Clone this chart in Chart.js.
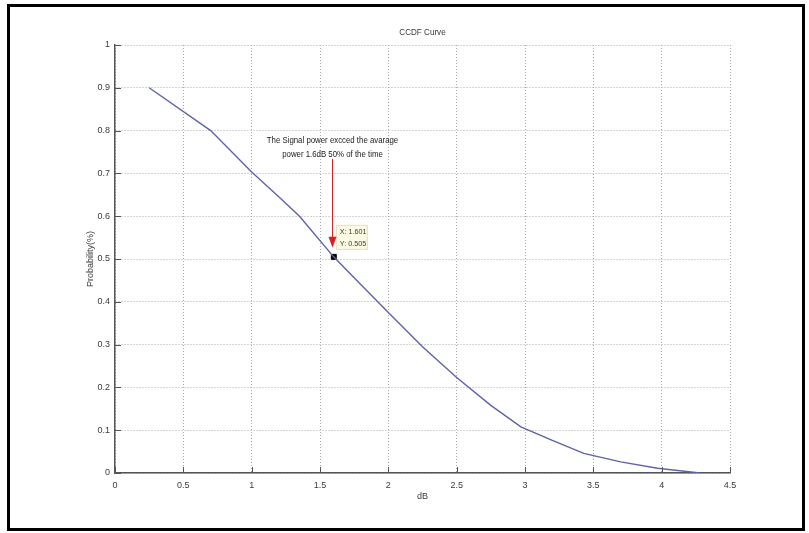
<!DOCTYPE html>
<html>
<head>
<meta charset="utf-8">
<title>CCDF Curve</title>
<script src="https://cdn.jsdelivr.net/npm/chart.js@4.4.1/dist/chart.umd.min.js"></script>
<style>
    html, body { margin: 0; padding: 0; background: #fff; }
    #wrap { position: relative; width: 809px; height: 533px; }
    #frame {
        position: absolute; left: 7px; top: 4px; width: 792px; height: 521px;
        border: 3px solid #000; pointer-events: none;
    }
    canvas { position: absolute; left: 0; top: 0; filter: blur(0.3px); }
</style>
</head>
<body>
<div id="wrap">
    <canvas id="ccdfChart" width="809" height="533"></canvas>
    <div id="frame"></div>
</div>
<script>
// CCDF of signal power over average (dB)
const powerDb = [0.25, 0.70, 1.00, 1.20, 1.35, 1.60, 1.80, 2.00, 2.25, 2.50, 2.75, 2.97, 3.20, 3.43, 3.70, 3.97, 4.28];
const probability = [0.900, 0.800, 0.703, 0.645, 0.600, 0.505, 0.440, 0.375, 0.295, 0.223, 0.158, 0.108, 0.076, 0.046, 0.026, 0.011, 0.000];

// data cursor point
const cursorX = [1.601];
const cursorY = [0.505];

const xTicks = [0, 0.5, 1, 1.5, 2, 2.5, 3, 3.5, 4, 4.5];
const xTickLabels = ['0', '0.5', '1', '1.5', '2', '2.5', '3', '3.5', '4', '4.5'];
const yTicks = [0, 0.1, 0.2, 0.3, 0.4, 0.5, 0.6, 0.7, 0.8, 0.9, 1];
const yTickLabels = ['0', '0.1', '0.2', '0.3', '0.4', '0.5', '0.6', '0.7', '0.8', '0.9', '1'];

const chartTitle = 'CCDF Curve';
const noteLines = ['The Signal power excced the avarage', 'power 1.6dB 50% of the time'];

const FONT = "'Liberation Sans', Arial, sans-serif";
const TEXT = '#3a3a3a';

function fixedTicks(values) {
    return function(scale) {
        scale.ticks = values.map(v => ({ value: v }));
    };
}

// narrow text: squeeze horizontally around the anchor
function narrowText(ctx, text, x, y, squeeze) {
    ctx.save();
    ctx.translate(x, y);
    ctx.scale(squeeze, 1);
    ctx.fillText(text, 0, 0);
    ctx.restore();
}

// MATLAB style ticks pointing into the axes, title over the plot area, data tip and arrow note
const extrasPlugin = {
    id: 'extras',
    afterDatasetsDraw(chart) {
        const ctx = chart.ctx;
        const xs = chart.scales.x, ys = chart.scales.y;
        const area = chart.chartArea;

        ctx.save();
        ctx.strokeStyle = '#555';
        ctx.lineWidth = 1;
        xTicks.forEach(v => {
            const px = Math.round(xs.getPixelForValue(v)) + 0.5;
            ctx.beginPath();
            ctx.moveTo(px, area.bottom);
            ctx.lineTo(px, area.bottom - 6);
            ctx.stroke();
        });
        yTicks.forEach(v => {
            const py = Math.round(ys.getPixelForValue(v)) + 0.5;
            ctx.beginPath();
            ctx.moveTo(area.left, py);
            ctx.lineTo(area.left + 6, py);
            ctx.stroke();
        });

        // title centred on the axes
        ctx.fillStyle = TEXT;
        ctx.font = '9px ' + FONT;
        ctx.textAlign = 'center';
        ctx.textBaseline = 'middle';
        narrowText(ctx, chartTitle, (area.left + area.right) / 2, area.top - 12, 0.9);

        const mx = xs.getPixelForValue(cursorX[0]);
        const my = ys.getPixelForValue(cursorY[0]);

        // data tip box
        ctx.fillStyle = '#fbfbe4';
        ctx.strokeStyle = '#e0e0c8';
        ctx.fillRect(mx + 2, my - 32, 32, 25);
        ctx.strokeRect(mx + 2.5, my - 31.5, 31, 24);
        ctx.fillStyle = TEXT;
        ctx.font = '8px ' + FONT;
        ctx.textAlign = 'left';
        narrowText(ctx, 'X: ' + cursorX[0].toFixed(3), mx + 6, my - 25, 0.9);
        narrowText(ctx, 'Y: ' + cursorY[0].toFixed(3), mx + 6, my - 13, 0.9);

        // red arrow from the note down to the point
        const ax = Math.round(mx - 2) + 0.5;
        ctx.strokeStyle = '#d42424';
        ctx.fillStyle = '#d42424';
        ctx.beginPath();
        ctx.moveTo(ax, my - 98);
        ctx.lineTo(ax, my - 14);
        ctx.stroke();
        ctx.beginPath();
        ctx.moveTo(ax - 4, my - 20);
        ctx.lineTo(ax + 4, my - 20);
        ctx.lineTo(ax, my - 9);
        ctx.closePath();
        ctx.fill();

        // note text
        ctx.fillStyle = '#222';
        ctx.font = '9px ' + FONT;
        ctx.textAlign = 'center';
        narrowText(ctx, noteLines[0], ax, my - 116, 0.87);
        narrowText(ctx, noteLines[1], ax, my - 102, 0.87);
        ctx.restore();
    }
};

new Chart(document.getElementById('ccdfChart'), {
    type: 'scatter',
    data: {
        datasets: [{
            data: powerDb.map((x, i) => ({ x: x, y: probability[i] })),
            showLine: true,
            borderColor: '#5e62aa',
            borderWidth: 1.4,
            pointRadius: 0,
            tension: 0
        }, {
            data: cursorX.map((x, i) => ({ x: x, y: cursorY[i] })),
            showLine: false,
            pointStyle: 'rect',
            pointRadius: 3.5,
            backgroundColor: '#000',
            borderColor: '#000',
            borderWidth: 1
        }]
    },
    plugins: [extrasPlugin],
    options: {
        responsive: false,
        animation: false,
        layout: { padding: { top: 45, right: 79, bottom: 0, left: 0 } },
        plugins: {
            legend: { display: false },
            tooltip: { enabled: false },
            title: { display: false }
        },
        scales: {
            x: {
                type: 'linear',
                min: 0,
                max: 4.5,
                afterBuildTicks: fixedTicks(xTicks),
                afterFit(scale) { scale.height = 60; },
                grid: { color: '#a8a8a8', lineWidth: 1, drawTicks: false },
                border: { color: '#555', width: 1.5, dash: [1, 2] },
                ticks: {
                    color: TEXT,
                    padding: 7,
                    maxRotation: 0,
                    font: { family: FONT, size: 9 },
                    callback: (v, i) => xTickLabels[i]
                },
                title: {
                    display: true,
                    text: 'dB',
                    color: TEXT,
                    font: { family: FONT, size: 9 },
                    padding: { top: 0, bottom: 31 }
                }
            },
            y: {
                type: 'linear',
                min: 0,
                max: 1,
                afterBuildTicks: fixedTicks(yTicks),
                afterFit(scale) { scale.width = 115; },
                grid: { color: '#a8a8a8', lineWidth: 1, drawTicks: false },
                border: { color: '#555', width: 1.5, dash: [1, 2] },
                ticks: {
                    color: TEXT,
                    padding: 5,
                    font: { family: FONT, size: 9 },
                    callback: (v, i) => yTickLabels[i]
                },
                title: {
                    display: true,
                    text: 'Probability(%)',
                    color: TEXT,
                    font: { family: FONT, size: 9 },
                    padding: { top: 85, bottom: 0 }
                }
            }
        }
    }
});
</script>
</body>
</html>
